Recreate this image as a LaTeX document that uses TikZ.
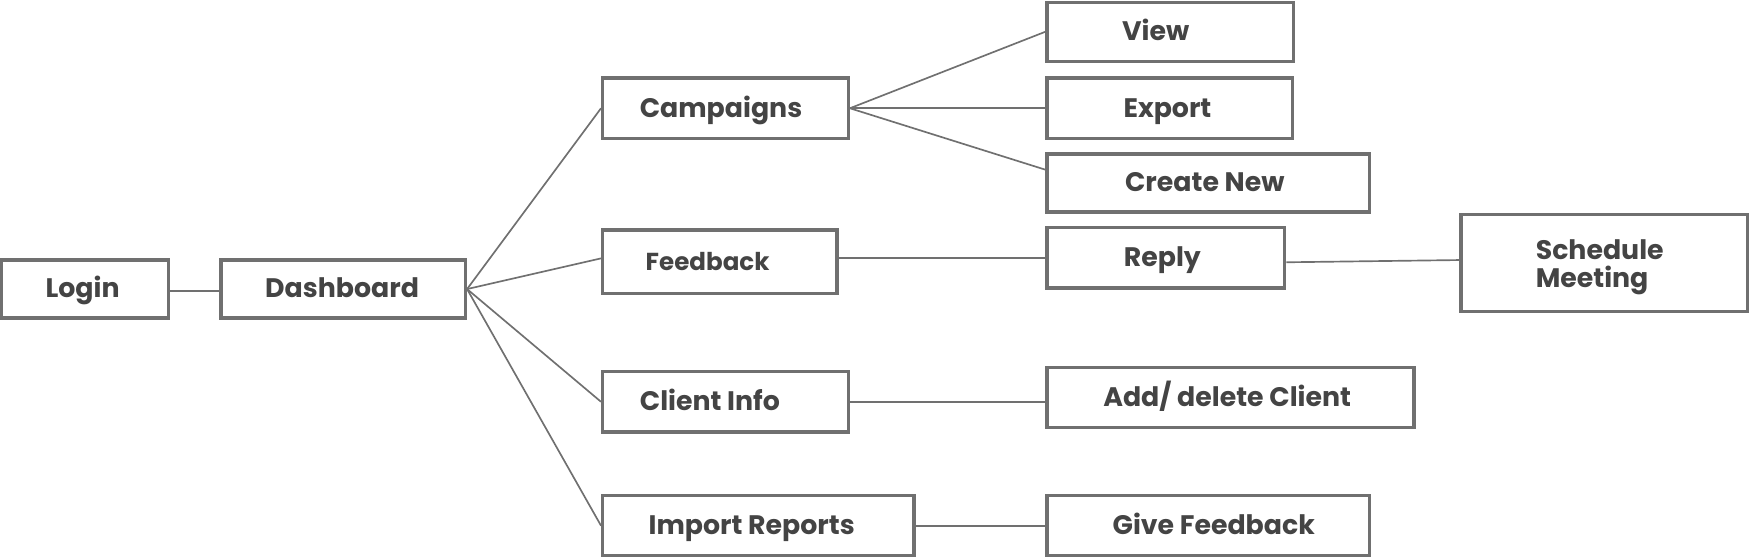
\documentclass[tikz,border=0pt]{standalone}
\usepackage{fontspec}
\setmainfont{Poppins}
\begin{document}
\begin{tikzpicture}[x=1pt,y=-1pt,
  box/.style={draw=boxgray,line width=3pt,inner sep=0pt,text=txtgray,
    font=\fontsize{24}{25.2}\selectfont\bfseries,text height=18pt,text depth=2pt},
  link/.style={draw=boxgray,line width=1.5pt}]
\definecolor{boxgray}{HTML}{707070}
\definecolor{txtgray}{HTML}{444444}
\useasboundingbox (0,0) rectangle (1568,500);
\node[box,minimum width=150pt,minimum height=52pt] (login) at (76,259) {Login\kern4pt};
\node[box,minimum width=219pt,minimum height=52pt] (dash) at (307.5,259) {Dashboard\kern2pt};
\node[box,minimum width=220pt,minimum height=54pt] (camp) at (650,97) {Campaigns\kern8pt};
\node[box,minimum width=210pt,minimum height=57pt,font=\fontsize{22}{24}\selectfont\bfseries] (feed) at (645,234.5) {Feedback\kern22pt};
\node[box,minimum width=220pt,minimum height=54pt] (client) at (650,360) {Client Info\kern28pt};
\node[box,minimum width=279pt,minimum height=54pt] (import) at (679.5,471) {Import Reports\kern12pt};
\node[box,minimum width=221pt,minimum height=53pt] (view) at (1048.5,28.5) {View\kern26pt};
\node[box,minimum width=220pt,minimum height=54pt] (export) at (1048,97) {Export\kern4pt};
\node[box,minimum width=289pt,minimum height=52pt] (cnew) at (1082.5,164) {Create New\kern6pt};
\node[box,minimum width=213pt,minimum height=54pt] (reply) at (1044.5,231) {Reply\kern6pt};
\node[box,minimum width=257pt,minimum height=87pt,align=left,text height=,text depth=] (sched) at (1437.5,235.5) {\rule{0pt}{26pt}Schedule\\Meeting\kern22pt};
\node[box,minimum width=329pt,minimum height=54pt] (addc) at (1102.5,356) {Add/ delete Client\kern6pt};
\node[box,minimum width=289pt,minimum height=54pt] (give) at (1082.5,471) {\kern10pt Give Feedback};
\draw[link] ([yshift=-2pt]login.east) -- ([yshift=-2pt]dash.west);
\draw[link] (dash.east) -- (camp.west);
\draw[link] (dash.east) -- ([yshift=3pt]feed.west);
\draw[link] (dash.east) -- (client.west);
\draw[link] (dash.east) -- (import.west);
\draw[link] (camp.east) -- (view.west);
\draw[link] (camp.east) -- (export.west);
\draw[link] (camp.east) -- ([yshift=12pt]cnew.west);
\draw[link] ([yshift=3.5pt]feed.east) -- (reply.west);
\draw[link] ([yshift=-4pt]reply.east) -- ([yshift=2.5pt]sched.west);
\draw[link] (client.east) -- ([yshift=-4pt]addc.west);
\draw[link] (import.east) -- (give.west);
\end{tikzpicture}
\end{document}
